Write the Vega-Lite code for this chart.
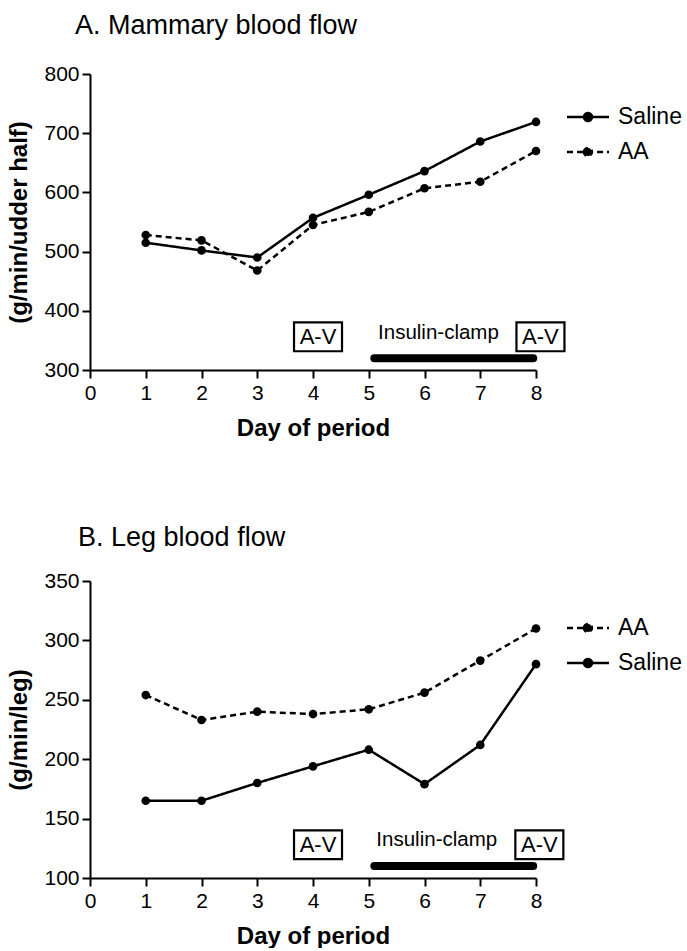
{
  "$schema": "https://vega.github.io/schema/vega-lite/v6.json",
  "background": "white",
  "padding": {"left": 7, "top": 12, "right": 0, "bottom": 0},
  "spacing": 84,
  "datasets": {
    "mammary": [
      {"day": 1, "flow": 515, "treatment": "Saline"},
      {"day": 2, "flow": 502, "treatment": "Saline"},
      {"day": 3, "flow": 490, "treatment": "Saline"},
      {"day": 4, "flow": 557, "treatment": "Saline"},
      {"day": 5, "flow": 596, "treatment": "Saline"},
      {"day": 6, "flow": 636, "treatment": "Saline"},
      {"day": 7, "flow": 686, "treatment": "Saline"},
      {"day": 8, "flow": 719, "treatment": "Saline"},
      {"day": 1, "flow": 528, "treatment": "AA"},
      {"day": 2, "flow": 519, "treatment": "AA"},
      {"day": 3, "flow": 468, "treatment": "AA"},
      {"day": 4, "flow": 545, "treatment": "AA"},
      {"day": 5, "flow": 567, "treatment": "AA"},
      {"day": 6, "flow": 607, "treatment": "AA"},
      {"day": 7, "flow": 618, "treatment": "AA"},
      {"day": 8, "flow": 670, "treatment": "AA"}
    ],
    "leg": [
      {"day": 1, "flow": 254, "treatment": "AA"},
      {"day": 2, "flow": 233, "treatment": "AA"},
      {"day": 3, "flow": 240, "treatment": "AA"},
      {"day": 4, "flow": 238, "treatment": "AA"},
      {"day": 5, "flow": 242, "treatment": "AA"},
      {"day": 6, "flow": 256, "treatment": "AA"},
      {"day": 7, "flow": 283, "treatment": "AA"},
      {"day": 8, "flow": 310, "treatment": "AA"},
      {"day": 1, "flow": 165, "treatment": "Saline"},
      {"day": 2, "flow": 165, "treatment": "Saline"},
      {"day": 3, "flow": 180, "treatment": "Saline"},
      {"day": 4, "flow": 194, "treatment": "Saline"},
      {"day": 5, "flow": 208, "treatment": "Saline"},
      {"day": 6, "flow": 179, "treatment": "Saline"},
      {"day": 7, "flow": 212, "treatment": "Saline"},
      {"day": 8, "flow": 280, "treatment": "Saline"}
    ],
    "mammaryClamp": [{"start": 5.1, "end": 7.95, "level": 320}],
    "legClamp": [{"start": 5.1, "end": 7.95, "level": 110}],
    "mammaryNotes": [
      {"day": 4.09, "value": 356, "label": "A-V", "kind": "box"},
      {"day": 8.08, "value": 356, "label": "A-V", "kind": "box"},
      {"day": 6.25, "value": 362, "label": "Insulin-clamp", "kind": "text"}
    ],
    "legNotes": [
      {"day": 4.09, "value": 128, "label": "A-V", "kind": "box"},
      {"day": 8.06, "value": 128, "label": "A-V", "kind": "box"},
      {"day": 6.22, "value": 132, "label": "Insulin-clamp", "kind": "text"}
    ]
  },
  "config": {
    "font": "Liberation Sans",
    "view": {"stroke": null},
    "axis": {
      "domainColor": "black", "domainWidth": 2, "tickColor": "black", "tickWidth": 2, "tickSize": 8,
      "grid": false, "labelFont": "Liberation Sans", "labelFontSize": 21, "labelColor": "black",
      "titleFont": "Liberation Sans", "titleFontSize": 24, "titleFontWeight": "bold", "titleColor": "black",
      "labelFlush": false, "labelOverlap": false
    },
    "axisX": {"labelPadding": 4, "titlePadding": 13},
    "axisY": {"labelPadding": 3, "titlePadding": 12},
    "title": {"font": "Liberation Sans", "fontSize": 27, "fontWeight": "normal", "anchor": "start", "color": "black", "frame": "group", "baseline": "alphabetic"},
    "legend": {"orient": "none", "padding": 0, "labelFont": "Liberation Sans", "labelFontSize": 23, "labelColor": "black"}
  },
  "resolve": {"scale": {"strokeDash": "independent", "y": "independent"}, "legend": {"strokeDash": "independent"}},
  "vconcat": [
    {
      "width": 446, "height": 296,
      "title": {"text": "A. Mammary blood flow", "dx": -15, "offset": 23},
      "layer": [
        {
          "data": {"name": "mammary"},
          "mark": {"type": "line", "strokeWidth": 2.5, "color": "black"},
          "encoding": {
            "x": {"field": "day", "type": "quantitative", "scale": {"domain": [0, 8], "nice": false}, "axis": {"values": [0,1,2,3,4,5,6,7,8], "format": "d", "title": "Day of period"}},
            "y": {"field": "flow", "type": "quantitative", "scale": {"domain": [300, 800], "nice": false, "zero": false}, "axis": {"values": [300,400,500,600,700,800], "title": "(g/min/udder half)"}},
            "strokeDash": {"field": "treatment", "type": "nominal", "scale": {"domain": ["Saline", "AA"], "range": [[1, 0], [6, 4]]},
              "legend": {"title": null, "legendX": 486, "legendY": 31, "symbolType": "M-2,0H2M-0.38,0A0.38,0.38,0,1,1,0.38,0A0.38,0.38,0,1,1,-0.38,0Z", "symbolSize": 441, "symbolStrokeWidth": 2.5, "symbolStrokeColor": "black", "symbolFillColor": "black", "labelOffset": 18, "rowPadding": 11,
                "encode": {"symbols": {"update": {"fill": {"value": "black"}, "stroke": {"value": "black"}}}}}}
          }
        },
        {
          "data": {"name": "mammary"},
          "mark": {"type": "circle", "size": 75, "color": "black", "opacity": 1},
          "encoding": {
            "x": {"field": "day", "type": "quantitative"},
            "y": {"field": "flow", "type": "quantitative"}
          }
        },
        {
          "data": {"name": "mammaryClamp"},
          "mark": {"type": "rule", "strokeWidth": 8, "strokeCap": "round", "color": "black"},
          "encoding": {
            "x": {"field": "start", "type": "quantitative"},
            "x2": {"field": "end"},
            "y": {"field": "level", "type": "quantitative"}
          }
        },
        {
          "data": {"name": "mammaryNotes"},
          "transform": [{"filter": "datum.kind === 'box'"}],
          "mark": {"type": "point", "shape": "M-1,-0.6H1V0.6H-1Z", "size": 2304, "filled": true, "fill": "white", "stroke": "black", "strokeWidth": 2.2, "opacity": 1},
          "encoding": {
            "x": {"field": "day", "type": "quantitative"},
            "y": {"field": "value", "type": "quantitative"}
          }
        },
        {
          "data": {"name": "mammaryNotes"},
          "transform": [{"filter": "datum.kind === 'box'"}],
          "mark": {"type": "text", "fontSize": 22, "color": "black", "align": "center", "baseline": "middle"},
          "encoding": {
            "x": {"field": "day", "type": "quantitative"},
            "y": {"field": "value", "type": "quantitative"},
            "text": {"field": "label"}
          }
        },
        {
          "data": {"name": "mammaryNotes"},
          "transform": [{"filter": "datum.kind === 'text'"}],
          "mark": {"type": "text", "fontSize": 20.5, "color": "black", "align": "center", "baseline": "middle"},
          "encoding": {
            "x": {"field": "day", "type": "quantitative"},
            "y": {"field": "value", "type": "quantitative"},
            "text": {"field": "label"}
          }
        }
      ]
    },
    {
      "width": 446, "height": 297,
      "title": {"text": "B. Leg blood flow", "dx": -12, "offset": 18},
      "layer": [
        {
          "data": {"name": "leg"},
          "mark": {"type": "line", "strokeWidth": 2.5, "color": "black"},
          "encoding": {
            "x": {"field": "day", "type": "quantitative", "scale": {"domain": [0, 8], "nice": false}, "axis": {"values": [0,1,2,3,4,5,6,7,8], "format": "d", "title": "Day of period"}},
            "y": {"field": "flow", "type": "quantitative", "scale": {"domain": [100, 350], "nice": false, "zero": false}, "axis": {"values": [100,150,200,250,300,350], "title": "(g/min/leg)"}},
            "strokeDash": {"field": "treatment", "type": "nominal", "scale": {"domain": ["AA", "Saline"], "range": [[6, 4], [1, 0]]},
              "legend": {"title": null, "legendX": 486, "legendY": 35, "symbolType": "M-2,0H2M-0.38,0A0.38,0.38,0,1,1,0.38,0A0.38,0.38,0,1,1,-0.38,0Z", "symbolSize": 441, "symbolStrokeWidth": 2.5, "symbolStrokeColor": "black", "symbolFillColor": "black", "labelOffset": 18, "rowPadding": 11,
                "encode": {"symbols": {"update": {"fill": {"value": "black"}, "stroke": {"value": "black"}}}}}}
          }
        },
        {
          "data": {"name": "leg"},
          "mark": {"type": "circle", "size": 75, "color": "black", "opacity": 1},
          "encoding": {
            "x": {"field": "day", "type": "quantitative"},
            "y": {"field": "flow", "type": "quantitative"}
          }
        },
        {
          "data": {"name": "legClamp"},
          "mark": {"type": "rule", "strokeWidth": 8, "strokeCap": "round", "color": "black"},
          "encoding": {
            "x": {"field": "start", "type": "quantitative"},
            "x2": {"field": "end"},
            "y": {"field": "level", "type": "quantitative"}
          }
        },
        {
          "data": {"name": "legNotes"},
          "transform": [{"filter": "datum.kind === 'box'"}],
          "mark": {"type": "point", "shape": "M-1,-0.6H1V0.6H-1Z", "size": 2304, "filled": true, "fill": "white", "stroke": "black", "strokeWidth": 2.2, "opacity": 1},
          "encoding": {
            "x": {"field": "day", "type": "quantitative"},
            "y": {"field": "value", "type": "quantitative"}
          }
        },
        {
          "data": {"name": "legNotes"},
          "transform": [{"filter": "datum.kind === 'box'"}],
          "mark": {"type": "text", "fontSize": 22, "color": "black", "align": "center", "baseline": "middle"},
          "encoding": {
            "x": {"field": "day", "type": "quantitative"},
            "y": {"field": "value", "type": "quantitative"},
            "text": {"field": "label"}
          }
        },
        {
          "data": {"name": "legNotes"},
          "transform": [{"filter": "datum.kind === 'text'"}],
          "mark": {"type": "text", "fontSize": 20.5, "color": "black", "align": "center", "baseline": "middle"},
          "encoding": {
            "x": {"field": "day", "type": "quantitative"},
            "y": {"field": "value", "type": "quantitative"},
            "text": {"field": "label"}
          }
        }
      ]
    }
  ]
}
